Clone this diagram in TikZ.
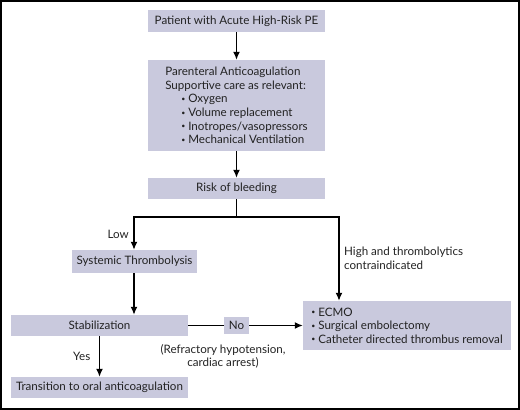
\documentclass[tikz,border=0pt]{standalone}
\usepackage{fontspec}
\setmainfont{Lato}
\usetikzlibrary{arrows.meta}
\definecolor{boxfill}{HTML}{C9C9DD}
\definecolor{inkgray}{HTML}{222222}
\newcommand{\dotitem}{\raisebox{0.25ex}{\scalebox{0.6}{\textbullet}}\ }
\tikzset{
  stepbox/.style={fill=boxfill, inner sep=0pt, align=center, text=inkgray},
  flow/.style={line width=1.4pt, -{Latex[length=8pt,width=7pt]}},
  plain/.style={line width=1.4pt},
  lbl/.style={text=inkgray, inner sep=0pt}
}
\begin{document}
\begin{tikzpicture}[x=1pt, y=-1pt, font=\fontsize{11.6}{13.6}\selectfont]
        % Frame
        \draw[line width=2pt] (1,1) rectangle (519,409);

        % Boxes
        \node[stepbox, minimum width=177pt, minimum height=22pt] (patient) at (236.5,21) {Patient with Acute High-Risk PE};
        \node[stepbox, minimum width=177pt, minimum height=91pt, align=left] (care) at (236.5,105.5)
          {Parenteral Anticoagulation\\Supportive care as relevant:\\
           \hspace*{16pt}\dotitem Oxygen\\
           \hspace*{16pt}\dotitem Volume replacement\\
           \hspace*{16pt}\dotitem Inotropes/vasopressors\\
           \hspace*{16pt}\dotitem Mechanical Ventilation};
        \node[stepbox, minimum width=177pt, minimum height=21pt] (risk) at (236.5,188.5) {Risk of bleeding};
        \node[stepbox, minimum width=125pt, minimum height=23pt] (lysis) at (134.5,261.5) {Systemic Thrombolysis};
        \node[stepbox, minimum width=177pt, minimum height=21pt] (stab) at (99.5,325.5) {Stabilization};
        \node[stepbox, minimum width=208pt, minimum height=49pt, align=left] (rescue) at (407,325.5)
          {\dotitem ECMO\\\dotitem Surgical embolectomy\\\dotitem Catheter directed thrombus removal};
        \node[stepbox, minimum width=25pt, minimum height=17pt] (no) at (236.5,325.5) {No};
        \node[stepbox, minimum width=177pt, minimum height=21pt] (oral) at (99.5,387.5) {Transition to oral anticoagulation};

        % Branch points
        \coordinate (split) at (236.5,217);
        \coordinate (lowend) at (134,217);
        \coordinate (highend) at (339,217);

        % Connectors
        \draw[flow] (patient) -- (care);
        \draw[flow] (care) -- (risk);
        \draw[plain] (risk) -- (split);
        \draw[plain, line cap=rect] (lowend) -- (highend);
        \draw[flow] (lowend) -- (lowend |- lysis.north);
        \draw[flow] (highend) -- (highend |- rescue.north);
        \draw[flow] (lowend |- lysis.south) -- (lowend |- stab.north);
        \draw[plain] (stab) -- (no);
        \draw[flow] (no) -- (rescue);
        \draw[flow] (stab) -- (oral);

        % Labels
        \node[lbl, anchor=east] (lowlbl) at (129,234) {Low};
        \node[lbl, anchor=west, align=left] (highlbl) at (344,258.5) {High and thrombolytics\\contraindicated};
        \node[lbl, anchor=east] (yeslbl) at (90.5,356) {Yes};
        \node[lbl, align=center] (whylbl) at (223,356.5) {(Refractory hypotension,\\cardiac arrest)};
    \end{tikzpicture}
\end{document}
